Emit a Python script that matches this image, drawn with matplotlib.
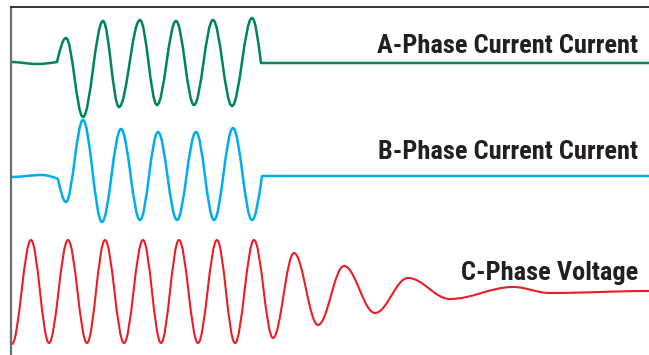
import matplotlib
matplotlib.use("Agg")
import matplotlib.pyplot as plt
from matplotlib.path import Path
from matplotlib.patches import PathPatch

# Turning points (time in samples, amplitude around each trace's baseline)
a_time = [0, 26, 46, 55, 72, 92, 108, 129, 146, 165, 183, 202, 221, 241, 250, 638]
a_amp = [0, -2, 0, 24, -55, 41, -45, 42, -43, 41, -43, 42, -44, 44, -1, -1]
a_cuts = [2, 14]

b_time = [0, 31, 47, 55, 72, 91, 110, 129, 147, 166, 185, 203, 222, 241, 251, 638]
b_amp = [-1, 1, -3, -26, 56, -46, 47, -44, 44, -44, 44, -44, 48, -44, 0, 0]
b_cuts = [2, 14]

c_time = [1, 20, 38, 57, 76, 94, 113, 132, 150, 168, 187, 206, 224, 243,
          262, 283, 307, 333, 364, 397, 439, 502, 539, 638]
c_amp = [-52, 52, -51, 52, -51, 52, -51, 52, -51, 52, -51, 52, -51, 52,
         -46, 39, -33, 26, -21, 14, -7, 5, -1, 1]
c_cuts = []

labels = ["A-Phase Current Current", "B-Phase Current Current", "C-Phase Voltage"]
colors = ["#00845f", "#00aeef", "#ed1c24"]
offsets = [-55.5, -169.5, -285.5]
label_y = [-46.5, -152.5, -273.5]


def wave_path(t, a, offset, cuts):
    # smooth curve through the turning points, flat at extremes, steep at cut points
    verts = [(t[0], a[0] + offset)]
    codes = [Path.MOVETO]
    for i in range(1, len(t)):
        x0, y0 = t[i - 1], a[i - 1] + offset
        x1, y1 = t[i], a[i] + offset
        dx = x1 - x0
        if i - 1 in cuts:
            c1 = (x0 + dx / 3, y0 + 0.52 * (y1 - y0))
        else:
            c1 = (x0 + 0.364 * dx, y0)
        if i in cuts:
            c2 = (x1 - dx / 3, y1 + 0.52 * (y0 - y1))
        else:
            c2 = (x1 - 0.364 * dx, y1)
        verts += [c1, c2, (x1, y1)]
        codes += [Path.CURVE4] * 3
    return Path(verts, codes)


fig = plt.figure(figsize=(6.49, 3.55), dpi=100)
left = 10.5 / 649
ax = fig.add_axes([left, 0, 1 - left, (355 - 6.5) / 355])
ax.set_xlim(-0.5, 638)
ax.set_ylim(-348.5, 0)

traces = [(a_time, a_amp, a_cuts), (b_time, b_amp, b_cuts), (c_time, c_amp, c_cuts)]
widths = [1.8, 1.8, 1.5]
for (t, a, cuts), col, off, lw in zip(traces, colors, offsets, widths):
    ax.add_patch(PathPatch(wave_path(t, a, off, cuts), fill=False, edgecolor=col,
                           linewidth=lw, capstyle="butt", joinstyle="round"))

for lab, y in zip(labels, label_y):
    ax.text(627, y, lab, ha="right", va="baseline", fontsize=19, fontweight="bold",
            color="#231f20", family=["Roboto Condensed", "Roboto", "DejaVu Sans"])

ax.set_xticks([])
ax.set_yticks([])
ax.spines["right"].set_visible(False)
ax.spines["bottom"].set_visible(False)
ax.spines["left"].set_color("#6d6d6d")
ax.spines["left"].set_linewidth(1.6)
ax.spines["top"].set_color("#333333")
ax.spines["top"].set_linewidth(1.4)

fig.savefig("out.png", dpi=100)
